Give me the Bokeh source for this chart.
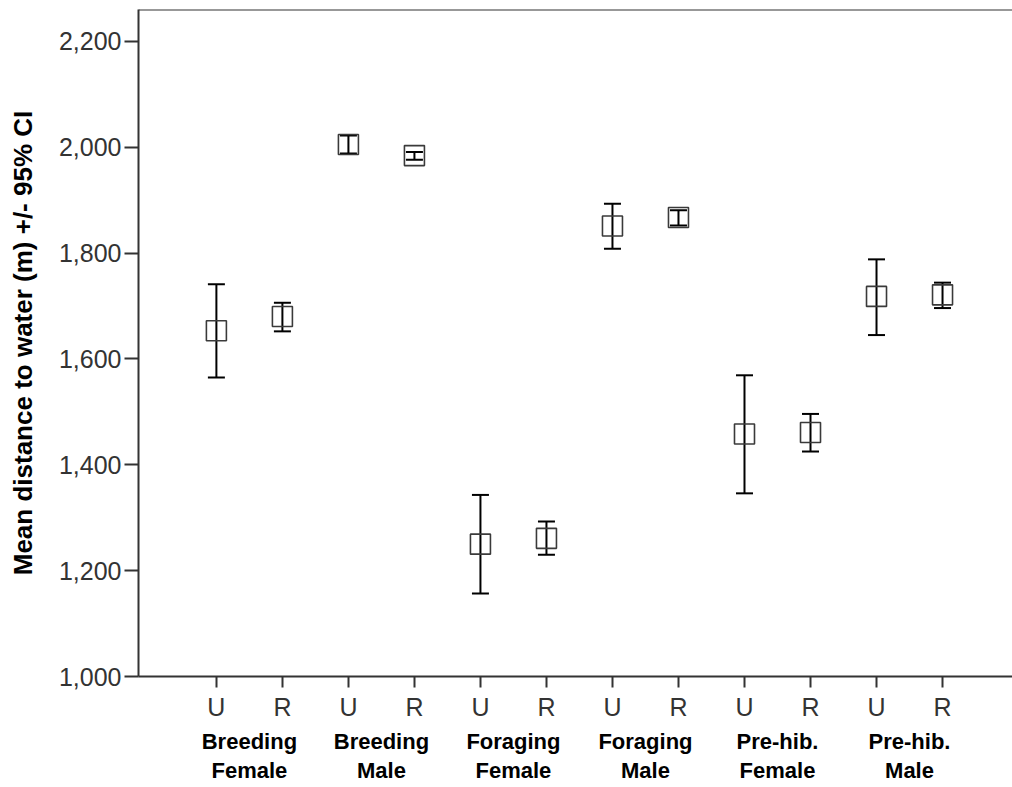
import math
from bokeh.plotting import figure
from bokeh.models import (Range1d, FixedTicker, NumeralTickFormatter, Whisker,
                          ColumnDataSource, Span, TeeHead, LinearAxis)
from bokeh.embed import file_html
from bokeh.resources import INLINE

# ---- data ----
tick_labels = ["U", "R", "U", "R", "U", "R", "U", "R", "U", "R", "U", "R"]
group_line1 = ["Breeding", "Breeding", "Foraging", "Foraging", "Pre-hib.", "Pre-hib."]
group_line2 = ["Female", "Male", "Female", "Male", "Female", "Male"]
means = [1653, 1680, 2005, 1984, 1250, 1261, 1851, 1867, 1458, 1461, 1718, 1721]
lower = [1565, 1652, 1988, 1976, 1157, 1230, 1808, 1852, 1346, 1425, 1645, 1696]
upper = [1741, 1706, 2022, 1991, 1343, 1293, 1893, 1881, 1569, 1496, 1788, 1744]
y_ticks = [1000, 1200, 1400, 1600, 1800, 2000, 2200]

xs = list(range(1, len(means) + 1))
src = ColumnDataSource(dict(x=xs, mean=means, lo=lower, hi=upper))

p = figure(width=1012, height=787, output_backend="svg", toolbar_location=None,
           x_range=Range1d(-0.18, 13.06), y_range=Range1d(1000, 2260),
           min_border_left=138, min_border_right=0, min_border_top=9,
           min_border_bottom=111)
p.outline_line_color = None
p.background_fill_color = "white"
p.border_fill_color = "white"
p.xgrid.visible = False
p.ygrid.visible = False

# top frame line
p.add_layout(Span(location=2260, dimension="width", line_color="#333333", line_width=2))

# boxes (means)
p.scatter("x", "mean", source=src, marker="square", size=20, fill_color=None,
          line_color="#3a3a3a", line_width=1.6)

# CI whiskers
w = Whisker(base="x", lower="lo", upper="hi", source=src,
            line_color="black", line_width=2,
            upper_head=TeeHead(size=17, line_color="black", line_width=2),
            lower_head=TeeHead(size=17, line_color="black", line_width=2))
p.add_layout(w)

# axes
ax = p.xaxis[0]
ax.ticker = FixedTicker(ticks=xs)
ax.major_label_overrides = {x: t for x, t in zip(xs, tick_labels)}
ax.minor_tick_line_color = None
ax.major_tick_in = 0
ax.major_tick_out = 11
ax.major_label_standoff = 5
ax.major_label_text_font = "Liberation Sans"
ax.major_label_text_font_size = "25px"
ax.major_label_text_color = "#333333"
ax.axis_line_color = "#333333"
ax.axis_line_width = 2
ax.major_tick_line_color = "#333333"
ax.major_tick_line_width = 2

# group labels axis (second row below U/R)
centers = [(xs[2 * i] + xs[2 * i + 1]) / 2 for i in range(len(group_line1))]
gax = LinearAxis(ticker=FixedTicker(ticks=centers),
                 major_label_overrides={c: f"{a}\n{b}" for c, a, b in zip(centers, group_line1, group_line2)})
gax.axis_line_color = None
gax.major_tick_line_color = None
gax.minor_tick_line_color = None
gax.major_tick_in = 0
gax.major_tick_out = 0
gax.major_label_standoff = 5
gax.major_label_text_font = "Liberation Sans"
gax.major_label_text_font_style = "bold"
gax.major_label_text_font_size = "22px"
gax.major_label_text_line_height = 1.18
gax.major_label_text_color = "black"
p.add_layout(gax, "below")

ay = p.yaxis[0]
ay.ticker = FixedTicker(ticks=y_ticks)
ay.formatter = NumeralTickFormatter(format="0,0")
ay.minor_tick_line_color = None
ay.major_tick_in = 0
ay.major_tick_out = 14
ay.major_label_standoff = 3
ay.major_label_text_font = "Liberation Sans"
ay.major_label_text_font_size = "25px"
ay.major_label_text_color = "#333333"
ay.axis_line_color = "#333333"
ay.axis_line_width = 2
ay.major_tick_line_color = "#333333"
ay.major_tick_line_width = 2
ay.axis_label = "Mean distance to water (m) +/- 95% CI"
ay.axis_label_text_font = "Liberation Sans"
ay.axis_label_text_font_style = "bold"
ay.axis_label_text_font_size = "26px"
ay.axis_label_text_color = "black"
ay.axis_label_standoff = 18

open("out.html", "w").write(file_html(p, INLINE))
